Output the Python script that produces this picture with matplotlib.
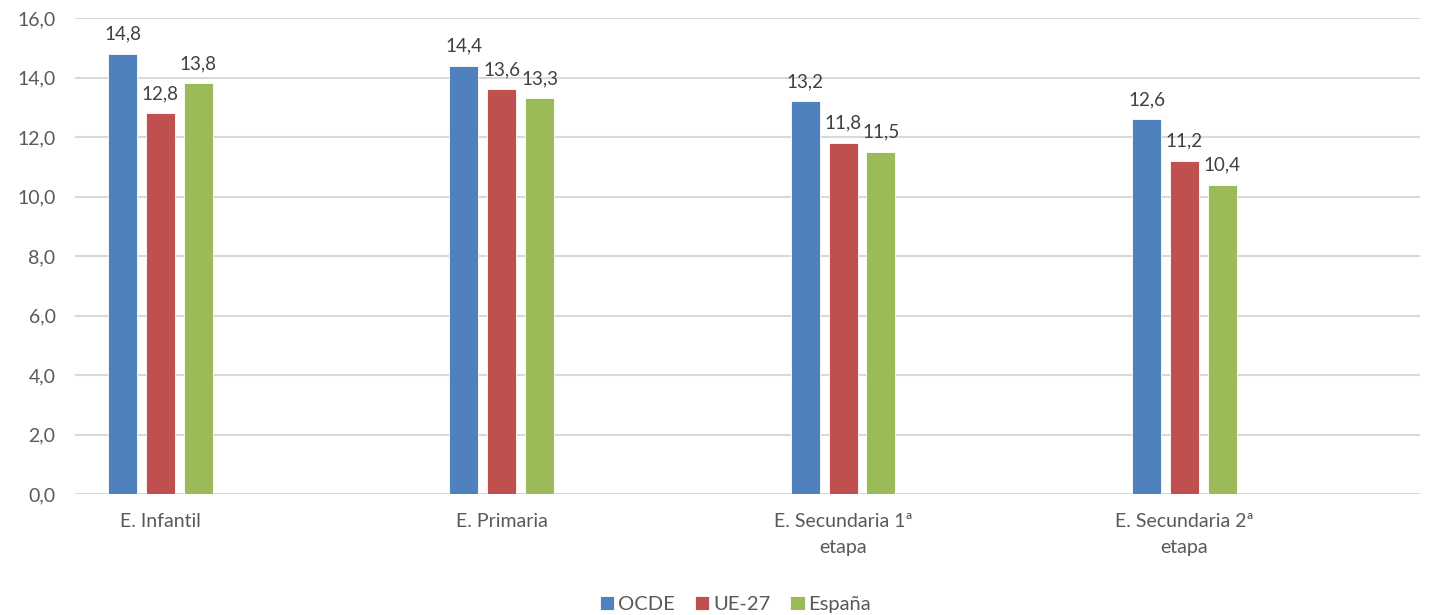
import numpy as np
import matplotlib.pyplot as plt

plt.rcParams['font.family'] = ['Lato', 'DejaVu Sans']

categorias = ["E. Infantil", "E. Primaria", "E. Secundaria 1ª\netapa", "E. Secundaria 2ª\netapa"]
series = ["OCDE", "UE-27", "España"]
ocde = [14.8, 14.4, 13.2, 12.6]
ue27 = [12.8, 13.6, 11.8, 11.2]
espana = [13.8, 13.3, 11.5, 10.4]
colores = ["#4f81bd", "#c0504d", "#9bbb59"]

fig = plt.figure(figsize=(14.31, 6.15), dpi=100)
ax = fig.add_axes([75/1431, 1 - 494/615, 1345/1431, 476/615])

x = np.arange(len(categorias))
w = 0.085
paso = 0.111
for i, (vals, nombre, c) in enumerate(zip([ocde, ue27, espana], series, colores)):
    pos = x + (i - 1) * paso
    ax.bar(pos, vals, width=w, color=c, label=nombre, zorder=3,
           edgecolor='white', linewidth=0.6)
    for xb, v in zip(pos, vals):
        ax.annotate(f"{v:.1f}".replace('.', ','), (xb, v), xytext=(0, 8),
                    textcoords='offset points', ha='center', va='bottom',
                    fontsize=13.5, color='#404040')

ax.set_xlim(-0.25, 3.69)
ax.set_ylim(0, 16)
ax.set_yticks(np.arange(0, 17, 2))
ax.set_yticklabels([f"{t:.1f}".replace('.', ',') for t in np.arange(0, 17, 2)])
ax.set_xticks(x)
ax.set_xticklabels(categorias, linespacing=1.6)
ax.grid(axis='y', color='#d9d9d9', linewidth=1.5, zorder=0)
ax.tick_params(axis='both', length=0, labelsize=14, colors='#595959')
ax.tick_params(axis='x', pad=14)
ax.tick_params(axis='y', pad=14)
for s in ax.spines.values():
    s.set_visible(False)

fig.legend(loc='lower center', bbox_to_anchor=(0.514, -0.026), ncol=3, frameon=False,
           fontsize=14.5, handlelength=0.7, handleheight=0.7, handletextpad=0.2,
           columnspacing=1.0, labelcolor='#595959')

plt.savefig("out.png", dpi=100)
